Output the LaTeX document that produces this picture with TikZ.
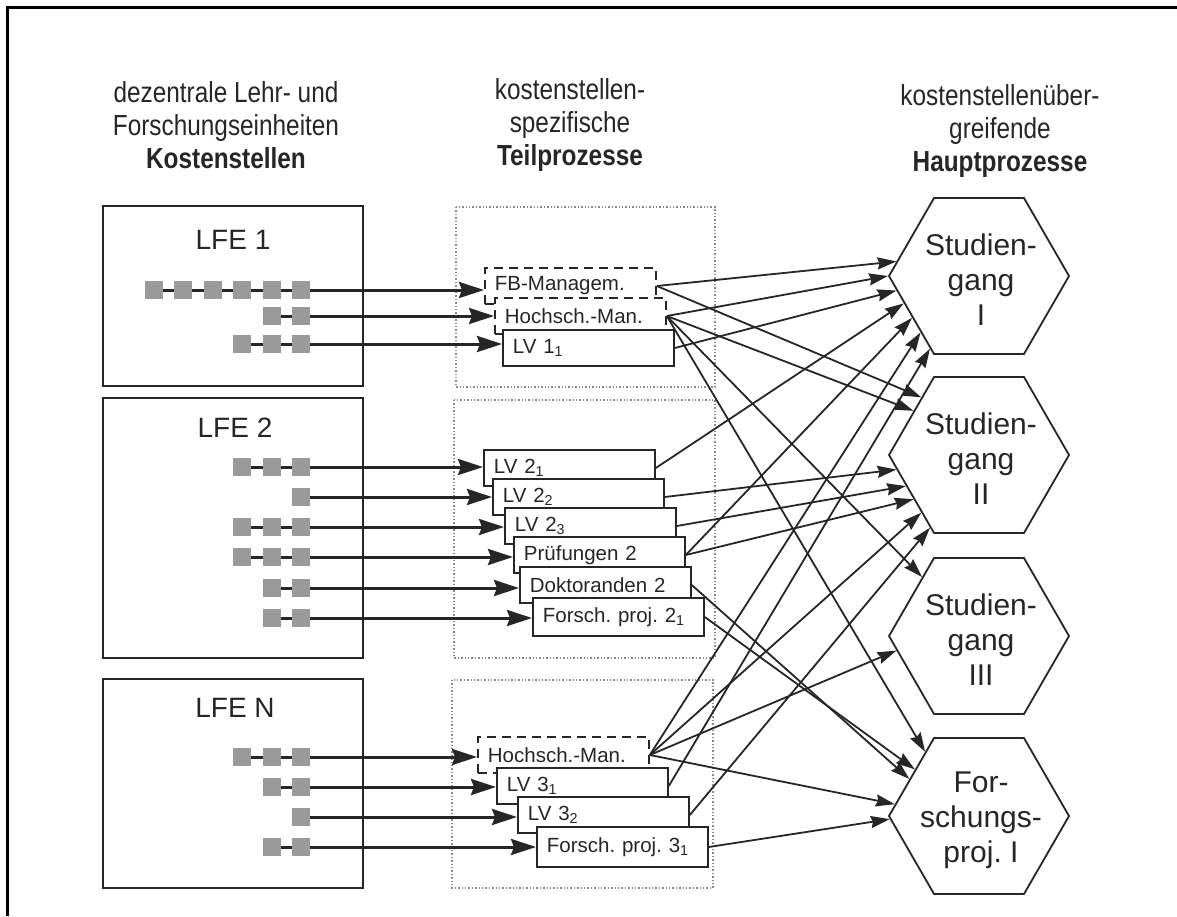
\documentclass[tikz,border=0pt]{standalone}
\usepackage{fontspec}
\setmainfont{Liberation Sans}
\newfontfamily\narrowfont{Liberation Sans}[FakeStretch=0.84]
\usetikzlibrary{arrows.meta,shapes.geometric,backgrounds}
\definecolor{Ink}{HTML}{262626}
\definecolor{Block}{HTML}{9A9A9A}
\definecolor{Dots}{HTML}{8A8A8A}
\frenchspacing

\begin{document}
\begin{tikzpicture}[x=1pt, y=-1pt,
    head/.style={font=\narrowfont\fontsize{29}{33}\selectfont, align=center, text=Ink},
    unitbox/.style={draw=Ink, line width=2.2pt, anchor=north west, minimum width=260pt, minimum height=180pt, inner sep=0pt},
    unitlab/.style={font=\fontsize{28}{30}\selectfont, text=Ink},
    group/.style={draw=Dots, dotted, line width=1.4pt},
    sq/.style={fill=Block, minimum size=18pt, inner sep=0pt},
    chain/.style={draw=Ink, line width=3pt},
    feed/.style={draw=Ink, line width=3pt, -{Stealth[length=25pt, width=16pt, inset=3pt]}},
    sub/.style={draw=Ink, fill=white, line width=1.8pt, anchor=west, minimum height=36pt, text width=151pt, inner xsep=10pt, align=left, font=\fontsize{20.5}{22}\selectfont, text=Ink},
    subd/.style={sub, dash pattern=on 9pt off 6pt},
    hexa/.style={draw=Ink, line width=1.8pt, regular polygon, regular polygon sides=6, minimum size=180pt, inner sep=0pt},
    hexlab/.style={font=\fontsize{30}{35}\selectfont, align=center, text=Ink},
    link/.style={draw=Ink, line width=1.8pt, -{Stealth[length=19pt, width=12pt, inset=2pt]}}]

    \useasboundingbox (0,0) rectangle (1177,916);

    % Frame
    \draw[line width=3pt] (7,916) -- (7,7) -- (1177,7);

    % Column heads
    \node[head] (h1) at (226,125) {dezentrale Lehr- und\\Forschungseinheiten\\\textbf{Kostenstellen}};
    \node[head] (h2) at (570,125) {kostenstellen-\\spezifische\\\textbf{Teilprozesse}};
    \node[head] (h3) at (1000,131) {kostenstellenüber-\\greifende\\\textbf{Hauptprozesse}};

    % Kostenstellen
    \node[unitbox] (lfe1) at (102,205) {};
    \node[unitbox, minimum height=260pt] (lfe2) at (102,397) {};
    \node[unitbox, minimum height=209pt] (lfen) at (102,678) {};
    \node[unitlab] (lfe1-t) at (233,240) {LFE 1};
    \node[unitlab] (lfe2-t) at (235,428) {LFE 2};
    \node[unitlab] (lfen-t) at (235,708) {LFE N};

    % Teilprozesse, grouped
    \draw[group] (456,207) rectangle (715,387);
    \draw[group] (454,400) rectangle (715,658);
    \draw[group] (452,680) rectangle (713,888);

    \node[subd] (fb) at (484,286) {FB-Managem.};
    \node[subd] (hma) at (494,316) {Hochsch.-Man.};
    \node[sub] (lva) at (502,348) {LV 1\textsubscript{1}};

    \node[sub] (lvb) at (483,468) {LV 2\textsubscript{1}};
    \node[sub] (lvc) at (492,497) {LV 2\textsubscript{2}};
    \node[sub] (lvd) at (504,526) {LV 2\textsubscript{3}};
    \node[sub] (pruef) at (513,555) {Prüfungen 2};
    \node[sub] (dokt) at (519,585) {Doktoranden 2};
    \node[sub, minimum height=38pt] (fpa) at (532,617) {Forsch. proj. 2\textsubscript{1}};

    \node[subd] (hmb) at (477,755) {Hochsch.-Man.};
    \node[sub] (lve) at (496,786) {LV 3\textsubscript{1}};
    \node[sub] (lvf) at (517,815) {LV 3\textsubscript{2}};
    \node[sub, minimum height=40pt] (fpb) at (536,847) {Forsch. proj. 3\textsubscript{1}};

    % Resources and feeds
    \foreach \y/\n/\t in {290/6/fb, 316/2/hma, 344/3/lva, 467/3/lvb, 497/1/lvc, 527/3/lvd,
                          557/3/pruef, 588/2/dokt, 618/2/fpa, 757/3/hmb, 787/2/lve, 817/1/lvf, 847/2/fpb} {
        \foreach \k in {1,...,\n}
            \node[sq] (q-\t-\k) at ({301-29.5*(\k-1)},\y) {};
        \begin{pgfonlayer}{background}
            \draw[chain] (q-\t-\n.center) -- (q-\t-1.center);
        \end{pgfonlayer}
        \draw[feed] (q-\t-1.east) -- (q-\t-1.east -| \t.west);
    }

    % Hauptprozesse
    \node[hexa] (sg1) at (979,276) {};
    \node[hexa] (sg2) at (979,455) {};
    \node[hexa] (sg3) at (979,636) {};
    \node[hexa] (fp1) at (979,816) {};
    \node[hexlab] (sg1-t) at (981,280) {Studien-\\gang\\I};
    \node[hexlab] (sg2-t) at (981,459) {Studien-\\gang\\II};
    \node[hexlab] (sg3-t) at (981,640) {Studien-\\gang\\III};
    \node[hexlab] (fp1-t) at (981,820) {For-\\schungs-\\proj. I};

    % Teilprozesse -> Hauptprozesse
    \foreach \s/\d/\a in {fb/sg1/170, hma/sg1/180, lva/sg1/190, lvb/sg1/200, pruef/sg1/212, hmb/sg1/224, lve/sg1/236,
                          fb/sg2/135, hma/sg2/146, lvc/sg2/190, lvd/sg2/203, pruef/sg2/214, hmb/sg2/225, lvf/sg2/236,
                          hma/sg3/134, hmb/sg3/190,
                          hma/fp1/130, fpa/fp1/144, dokt/fp1/152, hmb/fp1/172, fpb/fp1/182}
        \draw[link] (\s.east) -- (\d.\a);

\end{tikzpicture}
\end{document}
